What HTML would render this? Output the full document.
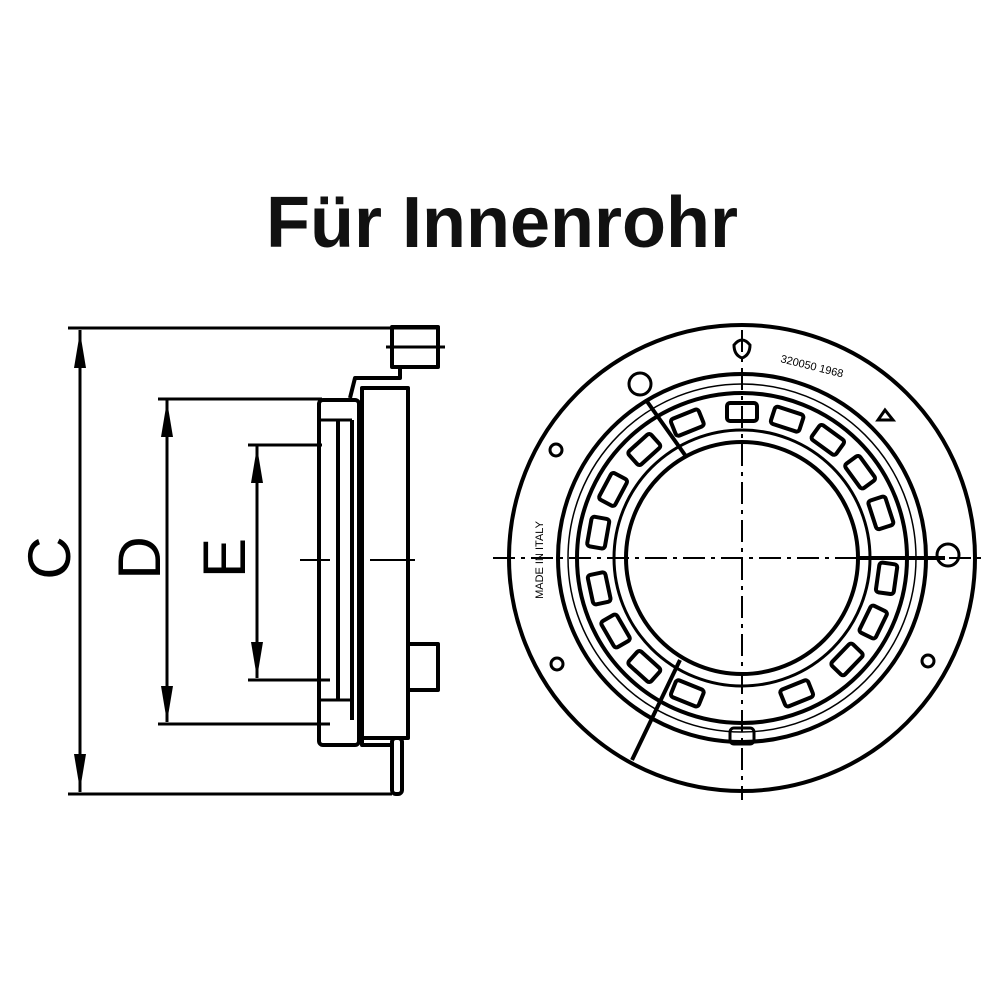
<!DOCTYPE html>
<html><head><meta charset="utf-8"><style>
html,body{margin:0;padding:0;background:#fff;}
svg{display:block}
</style></head><body>
<svg width="1000" height="1000" viewBox="0 0 1000 1000" xmlns="http://www.w3.org/2000/svg">
<rect width="1000" height="1000" fill="#fff"/>
<text x="502" y="247" text-anchor="middle" font-family="Liberation Sans, sans-serif" font-size="72" font-weight="bold" fill="#111">Für Innenrohr</text>

<g stroke="#000" fill="none" stroke-width="3">
<line x1="68" y1="328" x2="440" y2="328"/>
<line x1="68" y1="794" x2="392" y2="794"/>
<line x1="80" y1="330" x2="80" y2="792"/>
<line x1="158" y1="399" x2="322" y2="399"/>
<line x1="158" y1="724" x2="330" y2="724"/>
<line x1="167" y1="400" x2="167" y2="722"/>
<line x1="248" y1="445" x2="322" y2="445"/>
<line x1="248" y1="680" x2="330" y2="680"/>
<line x1="257" y1="446" x2="257" y2="678"/>
</g>
<g fill="#000">
<polygon points="80,332 74,368 86,368"/>
<polygon points="80,790 74,754 86,754"/>
<polygon points="167,401 161,437 173,437"/>
<polygon points="167,722 161,686 173,686"/>
<polygon points="257,447 251,483 263,483"/>
<polygon points="257,678 251,642 263,642"/>
</g>
<g font-family="Liberation Sans, sans-serif" font-size="60" fill="#000">
<text transform="translate(70,558) rotate(-90)" text-anchor="middle">C</text>
<text transform="translate(160,558) rotate(-90)" text-anchor="middle">D</text>
<text transform="translate(245,558) rotate(-90)" text-anchor="middle">E</text>
</g>

<g stroke="#000" fill="none" stroke-width="4" stroke-linejoin="round">
<rect x="392" y="327" width="46" height="40"/>
<line x1="386" y1="347" x2="445" y2="347" stroke-width="3"/>
<path d="M400,367 L400,378 L355,378 L350,398"/>
<rect x="362" y="388" width="46" height="350"/>
<rect x="319" y="400" width="40" height="345" rx="4"/>
<line x1="338" y1="420" x2="338" y2="700"/>
<line x1="352" y1="420" x2="352" y2="720"/>
<line x1="319" y1="420" x2="352" y2="420" stroke-width="3"/>
<line x1="319" y1="700" x2="352" y2="700" stroke-width="3"/>
<rect x="408" y="644" width="30" height="46"/>
<rect x="392" y="738" width="10" height="56" rx="4"/>
<path d="M362,738 L362,745 L392,745"/>
<line x1="300" y1="560" x2="330" y2="560" stroke-width="2"/>
<line x1="370" y1="560" x2="415" y2="560" stroke-width="2"/>
</g>

<g stroke="#000" fill="none" stroke-width="4">
<circle cx="742" cy="558" r="233"/>
<circle cx="742" cy="558" r="184"/>
<circle cx="742" cy="558" r="165"/>
<circle cx="742" cy="558" r="128" stroke-width="3"/>
<circle cx="742" cy="558" r="116"/>
<circle cx="742" cy="558" r="174" stroke-width="1.5"/>
</g>
<g stroke="#000" fill="none" stroke-width="2" stroke-dasharray="22,6,4,6">
<line x1="493" y1="558" x2="985" y2="558"/>
<line x1="742" y1="330" x2="742" y2="800"/>
</g>
<g stroke="#000" fill="none" stroke-width="4">
<rect x="-15" y="-9" width="30" height="18" rx="3" transform="translate(742,558) rotate(0) translate(0,-146)"/>
<rect x="-15" y="-9" width="30" height="18" rx="3" transform="translate(742,558) rotate(18) translate(0,-146)"/>
<rect x="-15" y="-9" width="30" height="18" rx="3" transform="translate(742,558) rotate(36) translate(0,-146)"/>
<rect x="-15" y="-9" width="30" height="18" rx="3" transform="translate(742,558) rotate(54) translate(0,-146)"/>
<rect x="-15" y="-9" width="30" height="18" rx="3" transform="translate(742,558) rotate(72) translate(0,-146)"/>
<rect x="-15" y="-9" width="30" height="18" rx="3" transform="translate(742,558) rotate(98) translate(0,-146)"/>
<rect x="-15" y="-9" width="30" height="18" rx="3" transform="translate(742,558) rotate(116) translate(0,-146)"/>
<rect x="-15" y="-9" width="30" height="18" rx="3" transform="translate(742,558) rotate(134) translate(0,-146)"/>
<rect x="-15" y="-9" width="30" height="18" rx="3" transform="translate(742,558) rotate(158) translate(0,-146)"/>
<rect x="-15" y="-9" width="30" height="18" rx="3" transform="translate(742,558) rotate(202) translate(0,-146)"/>
<rect x="-15" y="-9" width="30" height="18" rx="3" transform="translate(742,558) rotate(222) translate(0,-146)"/>
<rect x="-15" y="-9" width="30" height="18" rx="3" transform="translate(742,558) rotate(240) translate(0,-146)"/>
<rect x="-15" y="-9" width="30" height="18" rx="3" transform="translate(742,558) rotate(258) translate(0,-146)"/>
<rect x="-15" y="-9" width="30" height="18" rx="3" transform="translate(742,558) rotate(280) translate(0,-146)"/>
<rect x="-15" y="-9" width="30" height="18" rx="3" transform="translate(742,558) rotate(298) translate(0,-146)"/>
<rect x="-15" y="-9" width="30" height="18" rx="3" transform="translate(742,558) rotate(318) translate(0,-146)"/>
<rect x="-15" y="-9" width="30" height="18" rx="3" transform="translate(742,558) rotate(338) translate(0,-146)"/>
<line x1="646" y1="400" x2="685" y2="455"/>
<line x1="858" y1="558" x2="945" y2="558"/>
<line x1="680" y1="660" x2="632" y2="760"/>
<circle cx="640" cy="384" r="11" stroke-width="3"/>
<circle cx="948" cy="555" r="11" stroke-width="3"/>
<circle cx="556" cy="450" r="6" stroke-width="3"/>
<circle cx="557" cy="664" r="6" stroke-width="3"/>
<circle cx="928" cy="661" r="6" stroke-width="3"/>
<path d="M734,345 Q742,335 750,345 Q750,355 742,358 Q734,355 734,345Z" stroke-width="3"/>
<rect x="730" y="728" width="24" height="16" rx="4" stroke-width="3"/>
<path d="M885,410 L878,420 L893,420Z" stroke-width="3"/>
</g>
<g font-family="Liberation Sans, sans-serif" font-size="11" fill="#000">
<text transform="translate(780,362) rotate(14)">320050 1968</text>
<text transform="translate(543,560) rotate(-90)" text-anchor="middle">MADE IN ITALY</text>
</g>
</svg>
</body></html>
